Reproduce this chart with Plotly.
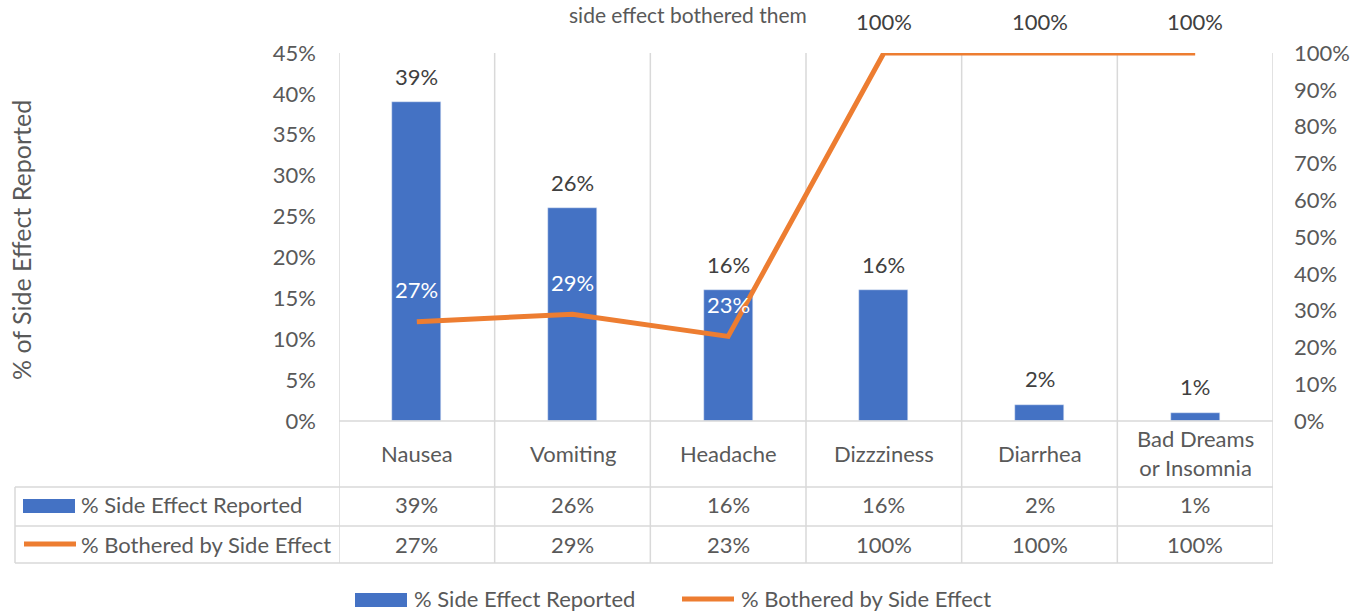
import plotly.graph_objects as go

categories = ["Nausea", "Vomiting", "Headache", "Dizzziness", "Diarrhea", "Bad Dreams<br>or Insomnia"]
reported = [39, 26, 16, 16, 2, 1]          # % Side Effect Reported (left axis)
bothered = [27, 29, 23, 100, 100, 100]     # % Bothered by Side Effect (right axis)
left_ticks = [0, 5, 10, 15, 20, 25, 30, 35, 40, 45]
right_ticks = [0, 10, 20, 30, 40, 50, 60, 70, 80, 90, 100]
series_names = ["% Side Effect Reported", "% Bothered by Side Effect"]
title_text = "side effect bothered them"
yaxis_title = "% of Side Effect Reported"

BLUE = "#4472C4"
ORANGE = "#ED7D31"
GRID = "#D9D9D9"
TXT = "#595959"
DARK = "#404040"
FONT = "Lato"
FS = 22

W, H = 1365, 615
L, R, T, B = 339, 1273, 53, 421
pw, ph = R - L, B - T


def px(x):
    return (x - L) / pw


def py(y):
    return (B - y) / ph


def fnt(color=TXT, size=FS):
    return dict(color=color, size=size, family=FONT)


xs = list(range(len(categories)))

fig = go.Figure()
fig.add_trace(go.Bar(x=xs, y=reported, marker_color=BLUE, width=0.315,
                     name=series_names[0], showlegend=False, yaxis="y"))
fig.add_trace(go.Scatter(x=xs, y=bothered, mode="lines", name=series_names[1],
                         line=dict(color=ORANGE, width=5), showlegend=False,
                         yaxis="y2", cliponaxis=False))

ann = []
shapes = []


def add_text(x, y, text, xref="paper", yref="paper", xanchor="center", font=None, **kw):
    ann.append(dict(x=x, y=y, xref=xref, yref=yref, text=text, showarrow=False,
                    xanchor=xanchor, yanchor="middle", font=font or fnt(), **kw))


# data labels
for i, v in enumerate(reported):
    add_text(i, v, f"{v}%", xref="x", yref="y", yshift=26, font=fnt(DARK))
for i, v in enumerate(bothered):
    col = "white" if v < 100 else DARK
    add_text(i, v, f"{v}%", xref="x", yref="y2", yshift=32, font=fnt(col))

# category labels and table values
for i, c in enumerate(categories):
    add_text(i, py(453), c, xref="x")
    add_text(i, py(505), f"{reported[i]}%", xref="x")
    add_text(i, py(544), f"{bothered[i]}%", xref="x")

# table row headers
add_text(px(79), py(505), series_names[0], xanchor="left")
add_text(px(79), py(544), series_names[1], xanchor="left")
shapes.append(dict(type="rect", xref="paper", yref="paper", x0=px(23), x1=px(75),
                   y0=py(513), y1=py(499), fillcolor=BLUE, line=dict(width=0)))
shapes.append(dict(type="line", xref="paper", yref="paper", x0=px(24), x1=px(76),
                   y0=py(544), y1=py(544), line=dict(color=ORANGE, width=5)))

# bottom legend
add_text(px(412), py(598), series_names[0], xanchor="left")
add_text(px(739), py(598), series_names[1], xanchor="left")
shapes.append(dict(type="rect", xref="paper", yref="paper", x0=px(355), x1=px(407),
                   y0=py(607), y1=py(593), fillcolor=BLUE, line=dict(width=0)))
shapes.append(dict(type="line", xref="paper", yref="paper", x0=px(682), x1=px(734),
                   y0=py(599), y1=py(599), line=dict(color=ORANGE, width=5)))

# title (top of the chart) and y axis title
add_text(px(688), py(14), title_text, font=fnt(TXT, 21))
add_text(px(21), py(240), yaxis_title, textangle=-90, font=fnt(TXT, 25))

# grid / table lines
for k in range(len(categories) + 1):
    shapes.append(dict(type="line", xref="x", yref="paper", x0=k - 0.5, x1=k - 0.5,
                       y0=1, y1=py(563), line=dict(color=GRID, width=1.5), layer="below"))
for yy in (487, 526, 563):
    shapes.append(dict(type="line", xref="paper", yref="paper", x0=px(15), x1=1,
                       y0=py(yy), y1=py(yy), line=dict(color=GRID, width=1.5)))
shapes.append(dict(type="line", xref="paper", yref="paper", x0=px(15), x1=px(15),
                   y0=py(487), y1=py(563), line=dict(color=GRID, width=1.5)))
shapes.append(dict(type="line", xref="paper", yref="paper", x0=0, x1=1,
                   y0=0, y1=0, line=dict(color=GRID, width=1.5)))

fig.update_layout(
    width=W, height=H,
    margin=dict(l=L, r=W - R, t=T, b=H - B, pad=0),
    paper_bgcolor="white", plot_bgcolor="white",
    font=dict(family=FONT, size=FS, color=TXT),
    showlegend=False,
    bargap=0,
    xaxis=dict(range=[-0.5, len(categories) - 0.5], showgrid=False, zeroline=False,
               showticklabels=False, showline=False, fixedrange=True),
    yaxis=dict(range=[0, 45], tickvals=left_ticks, ticktext=[f"{t}%" for t in left_ticks],
               showgrid=False, zeroline=False, showline=False, ticks="",
               ticklabelstandoff=22, tickfont=fnt()),
    yaxis2=dict(range=[0, 100], overlaying="y", side="right", tickvals=right_ticks,
                ticktext=[f"{t}%" for t in right_ticks], showgrid=False, zeroline=False,
                showline=False, ticks="", ticklabelstandoff=20, tickfont=fnt()),
    annotations=ann,
    shapes=shapes,
)

fig.write_html("out.html", config={"displayModeBar": False})

with open("out.html", "r", encoding="utf-8") as f:
    html = f.read()
html = html.replace("<body>", '<body style="margin:0;padding:0;overflow:hidden">', 1)
with open("out.html", "w", encoding="utf-8") as f:
    f.write(html)
